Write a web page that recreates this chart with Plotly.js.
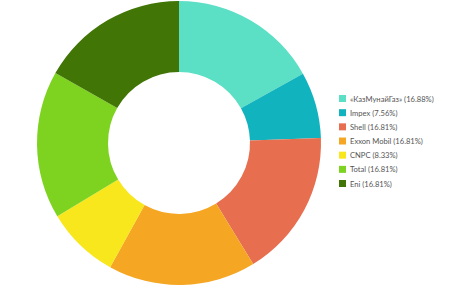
<!DOCTYPE html>
<html>
<head>
<meta charset="utf-8">
<script src="https://cdn.plot.ly/plotly-3.0.1.min.js"></script>
<style>html,body{margin:0;padding:0;background:#fff;}#chart{width:450px;height:293px;}</style>
</head>
<body>
<div id="chart"></div>
<script>
const companies = ["«КазМунайГаз»", "Impex", "Shell", "Exxon Mobil", "CNPC", "Total", "Eni"];
const shares = [16.88, 7.56, 16.81, 16.81, 8.33, 16.81, 16.81];
const colors = ["#5BDFC5", "#11B3BE", "#E76E4F", "#F5A623", "#F8E71C", "#7ED321", "#417505"];

const labels = companies.map((c, i) => c + " (" + shares[i].toFixed(2) + "%)");

const W = 450, H = 293;
const legX = 339, legSq = 7, legY0 = 98.5, legStep = 14.17;
const shapes = [], annotations = [];
labels.forEach((lab, i) => {
  const cy = legY0 + i * legStep;
  shapes.push({
    type: "rect", xref: "paper", yref: "paper",
    x0: legX / W, x1: (legX + legSq) / W,
    y0: 1 - (cy + legSq / 2) / H, y1: 1 - (cy - legSq / 2) / H,
    fillcolor: colors[i], line: {width: 0}
  });
  annotations.push({
    xref: "paper", yref: "paper", x: (legX + legSq + 2) / W, y: 1 - cy / H,
    xanchor: "left", yanchor: "middle", showarrow: false, text: lab,
    font: {family: "Lato, sans-serif", size: 7.6, color: "#555"}
  });
});

Plotly.newPlot("chart", [{
  type: "pie",
  labels: labels,
  values: shares,
  hole: 0.5,
  sort: false,
  direction: "clockwise",
  rotation: 0,
  textinfo: "none",
  hoverinfo: "none",
  marker: {colors: colors, line: {width: 0}},
  domain: {x: [37 / W, 321 / W], y: [(H - 285) / H, (H - 1) / H]}
}], {
  width: W, height: H,
  margin: {l: 0, r: 0, t: 0, b: 0, pad: 0, autoexpand: false},
  paper_bgcolor: "#fff",
  showlegend: false,
  shapes: shapes,
  annotations: annotations
}, {displayModeBar: false, staticPlot: true});
</script>
</body>
</html>
